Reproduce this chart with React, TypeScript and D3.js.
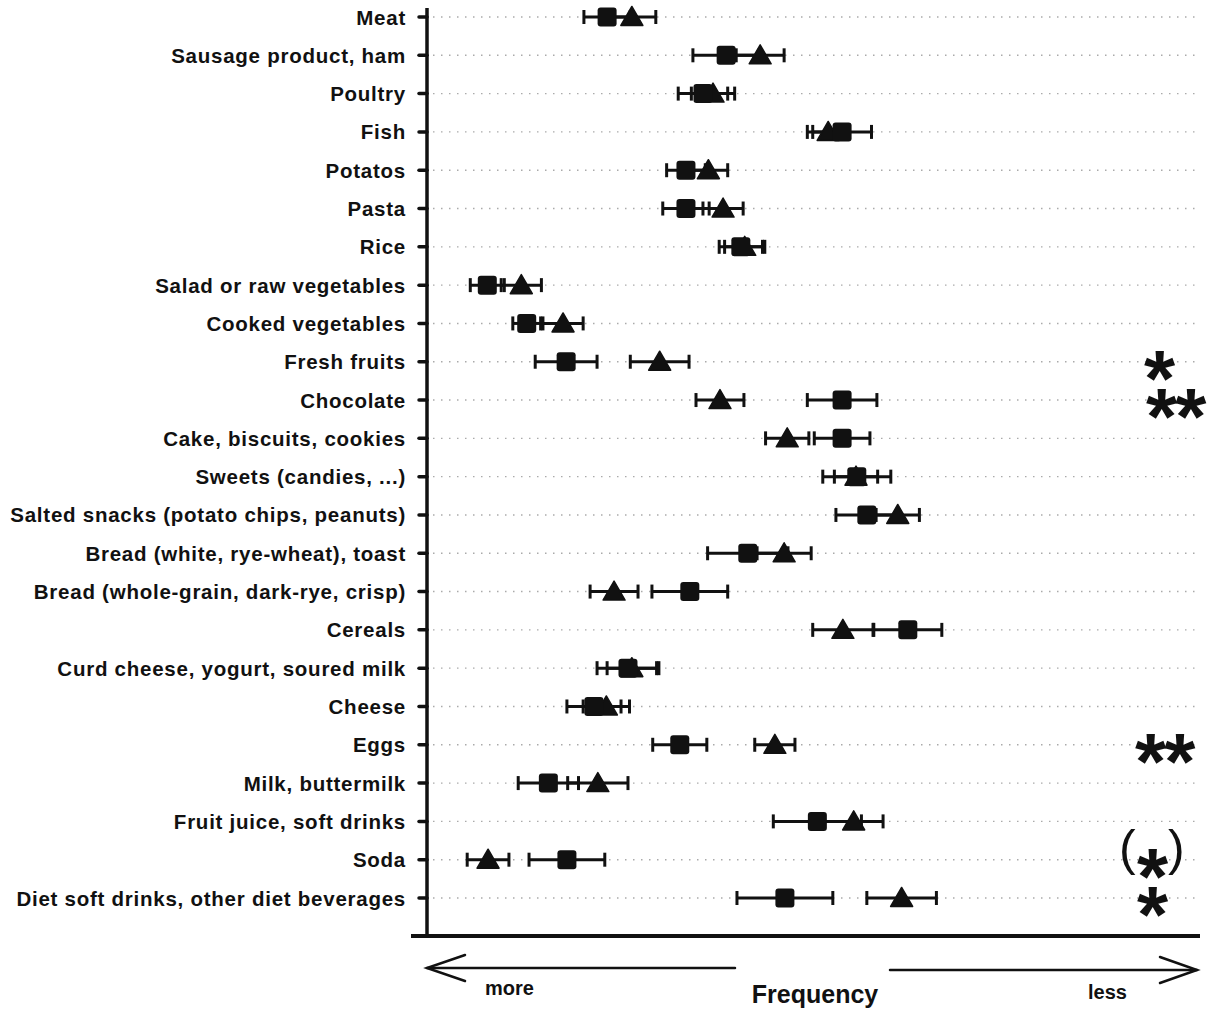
import React from "react";
import * as d3 from "d3";

const categories = [
  "Meat",
  "Sausage product, ham",
  "Poultry",
  "Fish",
  "Potatos",
  "Pasta",
  "Rice",
  "Salad or raw vegetables",
  "Cooked vegetables",
  "Fresh fruits",
  "Chocolate",
  "Cake, biscuits, cookies",
  "Sweets (candies, ...)",
  "Salted snacks (potato chips, peanuts)",
  "Bread (white, rye-wheat), toast",
  "Bread (whole-grain, dark-rye, crisp)",
  "Cereals",
  "Curd cheese, yogurt, soured milk",
  "Cheese",
  "Eggs",
  "Milk, buttermilk",
  "Fruit juice, soft drinks",
  "Soda",
  "Diet soft drinks, other diet beverages",
];

// square series (mean, error)
const squareMean = [23.3, 38.7, 35.7, 53.7, 33.5, 33.5, 40.6, 7.8, 12.9, 18.0, 53.7, 53.7, 55.6, 56.9, 41.5, 34.0, 62.2, 26.0, 21.6, 32.7, 15.7, 50.5, 18.1, 46.3];
const squareErr = [3.0, 4.3, 3.2, 3.8, 2.5, 3.0, 2.8, 2.2, 1.8, 4.0, 4.5, 3.6, 4.4, 4.0, 5.2, 4.9, 4.4, 4.0, 3.5, 3.5, 3.9, 5.7, 4.9, 6.2];
// triangle series (mean, error)
const triangleMean = [26.5, 43.1, 37.0, 51.9, 36.4, 38.3, 41.1, 12.2, 17.6, 30.1, 37.9, 46.6, 55.5, 60.9, 46.2, 24.2, 53.8, 26.5, 23.2, 45.0, 22.1, 55.2, 7.9, 61.4];
const triangleErr = [3.1, 3.1, 2.8, 2.7, 2.5, 2.6, 2.6, 2.6, 2.6, 3.8, 3.1, 2.8, 2.8, 2.8, 3.5, 3.1, 3.9, 3.2, 3.0, 2.6, 3.9, 3.8, 2.7, 4.5];
// significance marks
const significance = ["", "", "", "", "", "", "", "", "", "*", "**", "", "", "", "", "", "", "", "", "**", "", "", "(*)", "*"];

const axisLabels = ["more", "Frequency", "less"];

const W = 1211;
const H = 1010;
const FONT = "'Liberation Sans', Arial, sans-serif";

export default function App() {
  const x = d3.scaleLinear().domain([0, 100]).range([427, 1200]);
  const y = d3.scalePoint<string>().domain(categories).range([17, 898]);
  const axisX = 427;
  const sq = 19;
  const triW = 22;
  const triH = 19;
  const tri = (cx: number, cy: number) =>
    `M${cx - triW / 2},${cy + triH / 2 - 1} L${cx},${cy - triH / 2 - 1} L${cx + triW / 2},${cy + triH / 2 - 1} Z`;
  const capH = 7;

  const errBar = (m: number, e: number, cy: number, key: string) => {
    const x0 = x(m - e);
    const x1 = x(m + e);
    return (
      <g key={key} stroke="#111" strokeWidth={3}>
        <line x1={x0} x2={x1} y1={cy} y2={cy} />
        <line x1={x0} x2={x0} y1={cy - capH} y2={cy + capH} />
        <line x1={x1} x2={x1} y1={cy - capH} y2={cy + capH} />
      </g>
    );
  };

  const starStyle = {
    fontFamily: FONT,
    fontWeight: "bold" as const,
    fontSize: 80,
    fill: "#111",
  };

  // start x of the significance marks, per row
  const sigStart: Record<string, number> = { "*": 1144, "**": 1146 };
  const sigStartRow: Record<number, number> = { 19: 1135, 23: 1137 };

  return (
    <div style={{ position: "absolute", left: 0, top: 0 }}>
      <svg width={W} height={H} viewBox={`0 0 ${W} ${H}`} style={{ display: "block", background: "#fff" }}>
        {/* dotted row guides */}
        {categories.map((c) => (
          <line
            key={"g" + c}
            x1={axisX + 6}
            x2={1198}
            y1={y(c)!}
            y2={y(c)!}
            stroke="#aaa"
            strokeWidth={1.4}
            strokeDasharray="1.5 6.5"
          />
        ))}
        {/* labels and ticks */}
        {categories.map((c) => (
          <g key={"l" + c}>
            <text
              x={406}
              y={y(c)! + 7.5}
              textAnchor="end"
              fontFamily={FONT}
              fontWeight="bold"
              fontSize={20.5}
              letterSpacing={0.75}
              fill="#111"
            >
              {c}
            </text>
            <line x1={419} x2={axisX} y1={y(c)!} y2={y(c)!} stroke="#111" strokeWidth={3.5} strokeLinecap="round" />
          </g>
        ))}
        {/* axes */}
        <line x1={axisX} x2={axisX} y1={8} y2={937} stroke="#111" strokeWidth={3.5} />
        <line x1={411} x2={1200} y1={936} y2={936} stroke="#111" strokeWidth={4} />

        {/* error bars */}
        {categories.map((c, i) => errBar(triangleMean[i], triangleErr[i], y(c)!, "te" + i))}
        {categories.map((c, i) => errBar(squareMean[i], squareErr[i], y(c)!, "se" + i))}
        {/* triangles */}
        {categories.map((c, i) => (
          <path key={"t" + i} d={tri(x(triangleMean[i]), y(c)!)} fill="#111" stroke="#111" strokeWidth={1.5} strokeLinejoin="round" />
        ))}
        {/* squares */}
        {categories.map((c, i) => (
          <rect
            key={"s" + i}
            x={x(squareMean[i]) - sq / 2}
            y={y(c)! - sq / 2}
            width={sq}
            height={sq}
            rx={3}
            fill="#111"
          />
        ))}

        {/* significance */}
        {categories.map((c, i) => {
          const s = significance[i];
          if (!s) return null;
          const cy = y(c)!;
          if (s === "(*)") {
            return (
              <g key={"sig" + i}>
                <text x={1119} y={cy + 5} fontFamily={FONT} fontSize={50} fill="#111">(</text>
                <text x={1137} y={cy + 44} {...starStyle}>*</text>
                <text x={1168} y={cy + 5} fontFamily={FONT} fontSize={50} fill="#111">)</text>
              </g>
            );
          }
          const sx = sigStartRow[i] ?? sigStart[s];
          return (
            <text key={"sig" + i} x={sx} y={cy + 44} letterSpacing={-2} {...starStyle}>
              {s}
            </text>
          );
        })}

        {/* frequency arrows */}
        <g stroke="#111" strokeWidth={2.5} fill="none" strokeLinecap="round">
          <line x1={427} x2={735} y1={968} y2={968} />
          <polyline points="465,955 427,968 465,981" />
          <line x1={890} x2={1197} y1={970} y2={970} />
          <polyline points="1160,957 1197,970 1160,983" />
        </g>
        <text x={485} y={995} fontFamily={FONT} fontWeight="bold" fontSize={20} fill="#111">
          {axisLabels[0]}
        </text>
        <text x={815} y={1003} textAnchor="middle" fontFamily={FONT} fontWeight="bold" fontSize={25} fill="#111">
          {axisLabels[1]}
        </text>
        <text x={1088} y={999} fontFamily={FONT} fontWeight="bold" fontSize={20} fill="#111">
          {axisLabels[2]}
        </text>
      </svg>
    </div>
  );
}
